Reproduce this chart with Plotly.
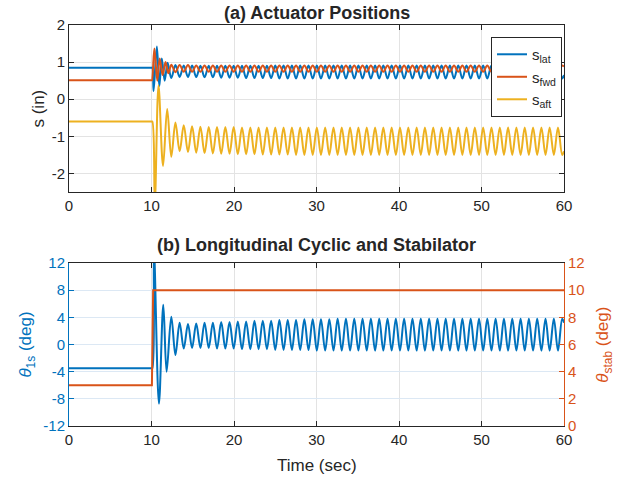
import plotly.graph_objects as go

# ---------------- data ----------------
# shared times of the steady oscillation extrema (sec)
ext_t = [12.40, 12.90, 13.41, 13.91, 14.42, 14.92, 15.42, 15.93, 16.43, 16.94,
         17.44, 17.94, 18.45, 18.95, 19.46, 19.96, 20.46, 20.97, 21.47, 21.98,
         22.48, 22.98, 23.49, 23.99, 24.50, 25.00, 25.50, 26.01, 26.51, 27.02,
         27.52, 28.02, 28.53, 29.03, 29.54, 30.04, 30.54, 31.05, 31.55, 32.06,
         32.56, 33.06, 33.57, 34.07, 34.58, 35.08, 35.58, 36.09, 36.59, 37.10,
         37.60, 38.10, 38.61, 39.11, 39.62, 40.12, 40.62, 41.13, 41.63, 42.14,
         42.64, 43.14, 43.65, 44.15, 44.66, 45.16, 45.66, 46.17, 46.67, 47.18,
         47.68, 48.18, 48.69, 49.19, 49.70, 50.20, 50.70, 51.21, 51.71, 52.22,
         52.72, 53.22, 53.73, 54.23, 54.74, 55.24, 55.74, 56.25, 56.75, 57.26,
         57.76, 58.26, 58.77, 59.27, 59.78]
t_end = 60.0

# s_lat : trim + transient, then extrema (even index = trough, odd = peak)
lat_t0 = [0, 10.0, 10.1, 10.25, 10.65, 10.95, 11.25, 11.6, 11.95]
lat_v0 = [0.85, 0.85, 0.85, 0.22, 1.42, 0.35, 1.10, 0.50, 0.98]
lat_even = [0.57, 0.60, 0.60, 0.60, 0.59, 0.59, 0.58, 0.58,
            0.58, 0.57, 0.57, 0.57, 0.57, 0.56, 0.56, 0.56,
            0.56, 0.56, 0.56, 0.56, 0.56, 0.56, 0.56, 0.56,
            0.56, 0.56, 0.56, 0.56, 0.56, 0.56, 0.56, 0.56,
            0.56, 0.56, 0.56, 0.56, 0.56, 0.56, 0.56, 0.56,
            0.56, 0.56, 0.56, 0.56, 0.56, 0.56, 0.56, 0.56]
lat_odd = [0.92, 0.91, 0.91, 0.90, 0.90, 0.90, 0.90, 0.90,
           0.90, 0.90, 0.90, 0.90, 0.91, 0.91, 0.91, 0.91,
           0.91, 0.91, 0.91, 0.91, 0.91, 0.91, 0.91, 0.91,
           0.91, 0.91, 0.91, 0.91, 0.91, 0.91, 0.91, 0.91,
           0.91, 0.91, 0.91, 0.91, 0.91, 0.91, 0.91, 0.91,
           0.91, 0.91, 0.91, 0.91, 0.91, 0.91, 0.91]
lat_end = 0.65

# s_fwd (even index = peak, odd = trough)
fwd_t0 = [0, 10.0, 10.05, 10.35, 10.7, 11.0, 11.35, 11.7, 12.05]
fwd_v0 = [0.51, 0.51, 0.51, 1.37, 0.50, 1.10, 0.65, 1.00, 0.70]
fwd_even = [0.93, 0.92, 0.92, 0.91, 0.91, 0.91, 0.91, 0.91,
            0.91, 0.91, 0.91, 0.91, 0.91, 0.91, 0.91, 0.91,
            0.91, 0.91, 0.91, 0.91, 0.91, 0.91, 0.91, 0.91,
            0.91, 0.91, 0.91, 0.91, 0.91, 0.91, 0.91, 0.91,
            0.91, 0.91, 0.91, 0.91, 0.91, 0.91, 0.91, 0.91,
            0.91, 0.91, 0.91, 0.91, 0.91, 0.91, 0.91, 0.91]
fwd_odd = [0.73, 0.74, 0.74, 0.74, 0.74, 0.74, 0.74, 0.74,
           0.74, 0.74, 0.74, 0.74, 0.74, 0.74, 0.74, 0.74,
           0.74, 0.74, 0.74, 0.74, 0.74, 0.74, 0.74, 0.74,
           0.74, 0.74, 0.74, 0.74, 0.74, 0.74, 0.74, 0.74,
           0.74, 0.74, 0.74, 0.74, 0.74, 0.74, 0.74, 0.74,
           0.74, 0.74, 0.74, 0.74, 0.74, 0.74, 0.74]
fwd_end = 0.88

# s_aft (even index = trough, odd = peak)
aft_t0 = [0, 10.0, 10.1, 10.4, 10.85, 11.4, 11.9]
aft_v0 = [-0.60, -0.60, -0.60, -2.80, 0.37, -1.80, -0.26]
aft_even = [-1.55, -1.40, -1.42, -1.44, -1.45, -1.46, -1.47, -1.47,
            -1.48, -1.48, -1.48, -1.49, -1.49, -1.49, -1.49, -1.50,
            -1.50, -1.50, -1.50, -1.50, -1.50, -1.50, -1.50, -1.50,
            -1.50, -1.50, -1.50, -1.50, -1.50, -1.50, -1.50, -1.50,
            -1.50, -1.50, -1.50, -1.50, -1.50, -1.50, -1.50, -1.50,
            -1.50, -1.50, -1.50, -1.50, -1.50, -1.50, -1.50, -1.50]
aft_odd = [-0.63, -0.70, -0.73, -0.74, -0.75, -0.75, -0.75, -0.75,
           -0.76, -0.76, -0.76, -0.76, -0.76, -0.76, -0.76, -0.76,
           -0.76, -0.76, -0.76, -0.76, -0.76, -0.76, -0.76, -0.76,
           -0.76, -0.76, -0.76, -0.76, -0.76, -0.76, -0.76, -0.76,
           -0.76, -0.76, -0.76, -0.76, -0.76, -0.76, -0.76, -0.76,
           -0.76, -0.76, -0.76, -0.76, -0.76, -0.76, -0.76]
aft_end = -1.40

# theta_1s (deg, left axis) (even index = peak, odd = trough)
th_t0 = [0, 10.0, 10.1, 10.3, 10.9, 11.43, 11.83]
th_v0 = [-3.5, -3.5, -3.5, 14.0, -8.7, 5.85, -4.0]
th_even = [4.1, 3.2, 3.0, 3.1, 3.2, 3.2, 3.3, 3.3,
           3.4, 3.4, 3.5, 3.5, 3.5, 3.6, 3.6, 3.6,
           3.7, 3.7, 3.7, 3.7, 3.8, 3.8, 3.8, 3.8,
           3.8, 3.8, 3.8, 3.8, 3.8, 3.8, 3.8, 3.8,
           3.8, 3.8, 3.8, 3.8, 3.8, 3.8, 3.8, 3.8,
           3.8, 3.8, 3.8, 3.8, 3.8, 3.8, 3.8, 3.8]
th_odd = [-1.55, -0.6, -0.5, -0.5, -0.5, -0.6, -0.6, -0.6,
          -0.7, -0.7, -0.7, -0.7, -0.8, -0.8, -0.8, -0.8,
          -0.8, -0.9, -0.9, -0.9, -0.9, -0.9, -0.9, -0.9,
          -0.9, -0.9, -0.9, -0.9, -0.9, -0.9, -0.9, -0.9,
          -0.9, -0.9, -0.9, -0.9, -0.9, -0.9, -0.9, -0.9,
          -0.9, -0.9, -0.9, -0.9, -0.9, -0.9, -0.9]
th_end = 3.2

# theta_stab (deg, right axis)
stab_t = [0, 10.05, 10.2, 60]
stab_v = [3, 3, 10, 10]

x_ticks = [0, 10, 20, 30, 40, 50, 60]
s_ticks = [-2, -1, 0, 1, 2]
th_ticks = [-12, -8, -4, 0, 4, 8, 12]
stab_ticks = [0, 2, 4, 6, 8, 10, 12]

BLUE, RED, YEL = "#0072BD", "#D95319", "#EDB120"
DARK = "#262626"


def series(t0, v0, even, odd, end):
    n = len(ext_t)
    assert len(even) == (n + 1) // 2 and len(odd) == n // 2
    vals = [even[i // 2] if i % 2 == 0 else odd[i // 2] for i in range(n)]
    return t0 + ext_t + [t_end], v0 + vals + [end]


def labels(vals):
    return [str(v) for v in vals]  # plain hyphen minus like the reference


fig = go.Figure()
lw = 2
for name, col, args in [
    ("s<sub>lat</sub>", BLUE, (lat_t0, lat_v0, lat_even, lat_odd, lat_end)),
    ("s<sub>fwd</sub>", RED, (fwd_t0, fwd_v0, fwd_even, fwd_odd, fwd_end)),
    ("s<sub>aft</sub>", YEL, (aft_t0, aft_v0, aft_even, aft_odd, aft_end)),
]:
    x, y = series(*args)
    fig.add_trace(go.Scatter(x=x, y=y, mode="lines", name=name,
                             line=dict(color=col, width=lw, shape="spline"),
                             xaxis="x", yaxis="y"))

x, y = series(th_t0, th_v0, th_even, th_odd, th_end)
fig.add_trace(go.Scatter(x=stab_t, y=stab_v, mode="lines", showlegend=False,
                         line=dict(color=RED, width=lw), xaxis="x2", yaxis="y3"))
fig.add_trace(go.Scatter(x=x, y=y, mode="lines", showlegend=False,
                         line=dict(color=BLUE, width=lw, shape="spline"),
                         xaxis="x2", yaxis="y2"))

FONT = "Liberation Sans, Arial, Helvetica, sans-serif"
TICKF = dict(family=FONT, size=15, color=DARK)
common_x = dict(range=[0, 60], tickvals=x_ticks, ticktext=labels(x_ticks),
                ticks="inside", ticklen=5,
                tickcolor=DARK, showline=True, linecolor=DARK, linewidth=1,
                mirror="ticks", showgrid=True, gridcolor="#e3e3e3",
                zeroline=False, tickfont=TICKF)

top_dom = [0.5835, 1.0]
bot_dom = [0.0, 0.4065]

fig.update_layout(
    width=628, height=481,
    margin=dict(l=69, r=64, t=25, b=55),
    plot_bgcolor="white", paper_bgcolor="white",
    font=dict(family=FONT, size=15, color=DARK),
    xaxis=dict(domain=[0, 1], anchor="y", **common_x),
    yaxis=dict(domain=top_dom, anchor="x", range=[-2.5, 2], tickvals=s_ticks,
               ticktext=labels(s_ticks),
               ticks="inside", ticklen=5, tickcolor=DARK, showline=True,
               linecolor=DARK, mirror="ticks", showgrid=True,
               gridcolor="#e3e3e3", zeroline=False, tickfont=TICKF),
    xaxis2=dict(domain=[0, 1], anchor="y2", **common_x),
    yaxis2=dict(domain=bot_dom, anchor="x2", range=[-12, 12], tickvals=th_ticks,
                ticktext=labels(th_ticks),
                ticks="inside", ticklen=5, tickcolor=BLUE, showline=True,
                linecolor=BLUE, showgrid=True, gridcolor="#dce8f4",
                zeroline=False, tickfont=dict(family=FONT, size=15, color=BLUE)),
    yaxis3=dict(overlaying="y2", anchor="x2", side="right", range=[0, 12],
                tickvals=stab_ticks, ticktext=labels(stab_ticks),
                ticks="inside", ticklen=5, tickcolor=RED,
                showline=True, linecolor=RED, showgrid=False, zeroline=False,
                tickfont=dict(family=FONT, size=15, color=RED)),
    legend=dict(x=0.996, y=0.97, xanchor="right", yanchor="top",
                bgcolor="white", bordercolor=DARK, borderwidth=1,
                font=dict(family=FONT, size=15, color=DARK),
                tracegroupgap=0),
    showlegend=True,
)

ann = [
    dict(text="<b>(a) Actuator Positions</b>", x=0.5, y=1.030, size=18, color=DARK, angle=0),
    dict(text="<b>(b) Longitudinal Cyclic and Stabilator</b>", x=0.5, y=0.4514, size=18, color=DARK, angle=0),
    dict(text="Time (sec)", x=0.5, y=-0.0973, size=17, color=DARK, angle=0),
    dict(text="s (in)", x=-0.0626, y=0.79175, size=17, color=DARK, angle=-90),
    dict(text="<i>θ</i><sub>1s</sub> (deg)", x=-0.0848, y=0.203, size=17, color=BLUE, angle=-90),
    dict(text="<i>θ</i><sub>stab</sub> (deg)", x=1.081, y=0.203, size=17, color=RED, angle=-90),
]
for a in ann:
    fig.add_annotation(text=a["text"], x=a["x"], y=a["y"], xref="paper", yref="paper",
                       xanchor="center", yanchor="middle", showarrow=False,
                       textangle=a["angle"],
                       font=dict(family=FONT, size=a["size"], color=a["color"]))

fig.write_html("out.html")
